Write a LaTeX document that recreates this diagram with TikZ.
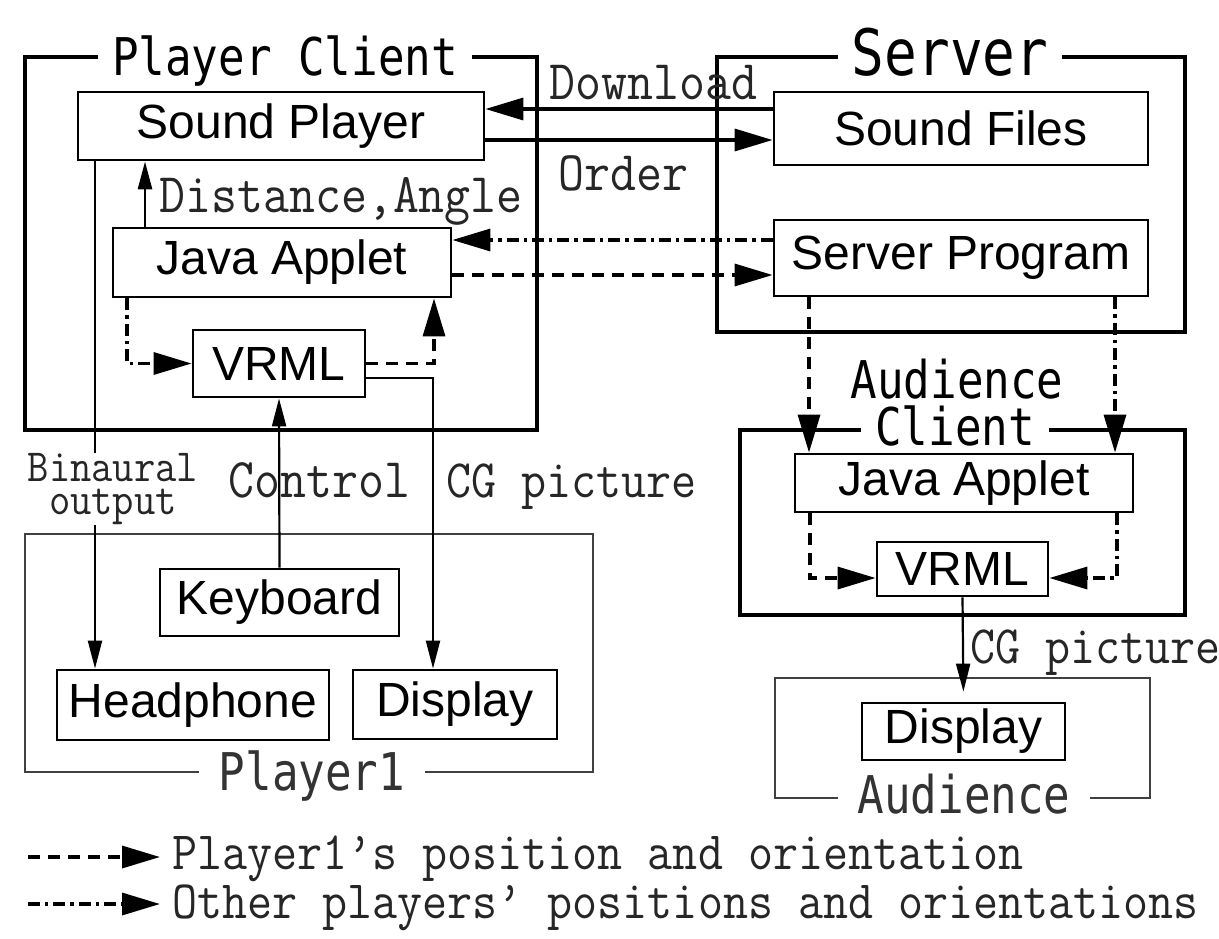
\documentclass[tikz,border=0pt]{standalone}
\usepackage{fontspec}
\setmainfont{Liberation Sans}
\newfontfamily\gothic[FakeStretch=0.85]{DejaVu Sans Mono}
\newfontfamily\mincho[FakeStretch=0.9]{Latin Modern Mono}
\usetikzlibrary{arrows.meta,fit}

\tikzset{
  unitbox/.style={draw, line width=1.4pt, inner sep=0pt, font=\fontsize{24}{26}\selectfont},
  groupbox/.style={draw, line width=2pt, inner sep=0pt},
  sitebox/.style={draw=black!75, line width=1.2pt, inner sep=0pt},
  grouptitle/.style={fill=white, inner ysep=0pt, inner xsep=7pt, font=\gothic\fontsize{26}{28}\selectfont},
  sitetitle/.style={grouptitle, text=black!80, inner xsep=10pt},
  flowlabel/.style={inner sep=0pt, text=black!85, font=\mincho\fontsize{28}{30}\selectfont},
  bigflow/.style={line width=1.7pt, -{Triangle[length=19pt,width=11pt]}},
  thinflow/.style={line width=1.1pt, -{Triangle[length=14pt,width=7pt]}},
  selfpos/.style={bigflow, dash pattern=on 6pt off 4pt},
  otherpos/.style={bigflow, dash pattern=on 6pt off 2.5pt on 1.7pt off 2.5pt},
}

\begin{document}
\begin{tikzpicture}[x=0.5pt, y=-0.5pt]
\useasboundingbox (0,0) rectangle (1219,938);

% player client
\node[groupbox, fit={(25,57) (537,430)}] (pc) {};
\node[grouptitle, anchor=base] (pct) at (285,75) {Player Client};
\node[unitbox, minimum width=203pt, minimum height=34pt] (sp) at (281,126) {Sound Player};
\node[unitbox, minimum width=169pt, minimum height=34.5pt] (ja1) at (282,262.5) {Java Applet};
\node[unitbox, minimum width=86pt, minimum height=33.5pt] (vr1) at (279,363.5) {VRML};

% player1
\node[sitebox, fit={(25,534) (593,772)}] (pl) {};
\node[sitetitle, anchor=base] (plt) at (312,790) {Player1};
\node[unitbox, minimum width=119.5pt, minimum height=33.5pt] (kb) at (279.5,602.5) {Keyboard};
\node[unitbox, minimum width=136pt, minimum height=35pt] (hp) at (193,705) {Headphone};
\node[unitbox, minimum width=102pt, minimum height=34.5pt] (dp1) at (455,704.5) {Display};

% server
\node[groupbox, fit={(717,57) (1185,332)}] (sv) {};
\node[grouptitle, font=\gothic\fontsize{32}{34}\selectfont, anchor=base] (svt) at (950,75) {Server};
\node[unitbox, minimum width=187pt, minimum height=36.5pt] (sf) at (961,128.5) {Sound Files};
\node[unitbox, minimum width=187pt, minimum height=38pt] (spg) at (961,258) {Server Program};

% audience client
\node[groupbox, fit={(740,430) (1185,615)}] (ac) {};
\node[grouptitle, fill=none, anchor=base] (act1) at (957,398) {Audience};
\node[grouptitle, anchor=base] (act2) at (955,445) {Client};
\node[unitbox, minimum width=169pt, minimum height=29pt] (ja2) at (964,483) {Java Applet};
\node[unitbox, minimum width=85.5pt, minimum height=27pt] (vr2) at (962.5,569) {VRML};

% audience
\node[sitebox, fit={(775,678) (1150,798)}] (au) {};
\node[sitetitle, anchor=base] (aut) at (964,813) {Audience};
\node[unitbox, minimum width=101.5pt, minimum height=28.5pt] (dp2) at (963.5,731.5) {Display};

% flows
\draw[bigflow] (sf.west |- 0,109) -- (sp.east |- 0,109);
\draw[bigflow] (sp.east |- 0,140) -- (sf.west |- 0,140);
\draw[thinflow, line width=1.4pt] (ja1.north -| 145,0) -- (sp.south -| 145,0);
\draw[otherpos] (spg.west |- 0,240) -- (ja1.east |- 0,240);
\draw[selfpos] (ja1.east |- 0,275) -- (spg.west |- 0,275);
\draw[otherpos] (ja1.south -| 127,0) |- (vr1.west);
\draw[selfpos] (vr1.east) -| (ja1.south -| 434,0);
\draw[thinflow] (vr1.east |- 0,378) -| (dp1.north -| 433,0);
\draw[thinflow] (sp.south -| 95,0) -- (hp.north -| 95,0);
\draw[thinflow] (kb.north) -- (vr1.south);
\draw[selfpos] (spg.south -| 809,0) -- (ja2.north -| 809,0);
\draw[otherpos] (spg.south -| 1115,0) -- (ja2.north -| 1115,0);
\draw[selfpos] (ja2.south -| 810,0) |- (vr2.west |- 0,578);
\draw[otherpos] (ja2.south -| 1117,0) |- (vr2.east |- 0,578);
\draw[thinflow, shorten >=5pt] (vr2.south) -- (dp2.north);

% labels
\node[flowlabel, anchor=base west] (dlt) at (549,99) {Download};
\node[flowlabel, anchor=base west] (odt) at (558,190) {Order};
\node[flowlabel, anchor=base west] (dat) at (159,212) {Distance,Angle};
\node[flowlabel, fill=white, align=center, font=\mincho\fontsize{23}{16.5}\selectfont, anchor=south] (bn) at (113,525) {Binaural\\output};
\node[flowlabel, anchor=base west] (ctl) at (228,497) {Control};
\node[flowlabel, font=\mincho\fontsize{27}{28}\selectfont, anchor=base west] (cg1) at (446,497) {CG picture};
\node[flowlabel, font=\mincho\fontsize{27}{28}\selectfont, anchor=base west] (cg2) at (970,663) {CG picture};

% legend
\coordinate (k1a) at (28,857);
\coordinate (k1b) at (160,857);
\coordinate (k2a) at (28,904);
\coordinate (k2b) at (160,904);
\draw[selfpos] (k1a) -- (k1b);
\draw[otherpos] (k2a) -- (k2b);
\node[flowlabel, font=\mincho\fontsize{27}{29}\selectfont, anchor=base west] (k1) at (172,869) {Player1’s position and orientation};
\node[flowlabel, font=\mincho\fontsize{27}{29}\selectfont, anchor=base west] (k2) at (172,918) {Other players’ positions and orientations};
\end{tikzpicture}
\end{document}
